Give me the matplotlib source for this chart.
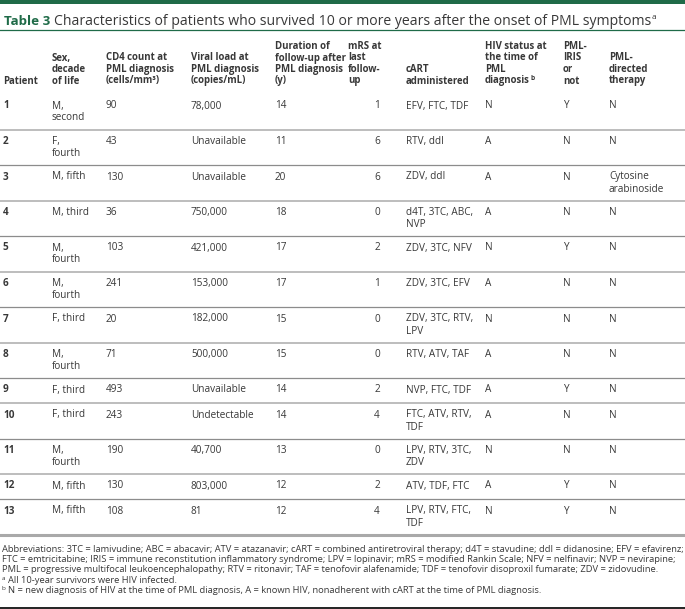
import matplotlib.pyplot as plt

plt.rcParams['font.family'] = ['Open Sans', 'DejaVu Sans']
plt.rcParams['mathtext.fontset'] = 'custom'
plt.rcParams['mathtext.rm'] = 'Open Sans'

# table content
headers = ["Patient", "Sex,\ndecade\nof life", "CD4 count at\nPML diagnosis\n(cells/mm\u00b3)",
           "Viral load at\nPML diagnosis\n(copies/mL)", "Duration of\nfollow-up after\nPML diagnosis\n(y)",
           "mRS at\nlast\nfollow-\nup", "cART\nadministered",
           "HIV status at\nthe time of\nPML\ndiagnosis", "PML-\nIRIS\nor\nnot", "PML-\ndirected\ntherapy"]

patients = ["1", "2", "3", "4", "5", "6", "7", "8", "9", "10", "11", "12", "13"]
sex_decade = ["M,\nsecond", "F,\nfourth", "M, fifth", "M, third", "M,\nfourth", "M,\nfourth", "F, third",
              "M,\nfourth", "F, third", "F, third", "M,\nfourth", "M, fifth", "M, fifth"]
cd4 = ["90", "43", "130", "36", "103", "241", "20", "71", "493", "243", "190", "130", "108"]
viral_load = ["78,000", "Unavailable", "Unavailable", "750,000", "421,000", "153,000", "182,000",
              "500,000", "Unavailable", "Undetectable", "40,700", "803,000", "81"]
duration = ["14", "11", "20", "18", "17", "17", "15", "15", "14", "14", "13", "12", "12"]
mrs = ["1", "6", "6", "0", "2", "1", "0", "0", "2", "4", "0", "2", "4"]
cart = ["EFV, FTC, TDF", "RTV, ddI", "ZDV, ddI", "d4T, 3TC, ABC,\nNVP", "ZDV, 3TC, NFV",
        "ZDV, 3TC, EFV", "ZDV, 3TC, RTV,\nLPV", "RTV, ATV, TAF", "NVP, FTC, TDF",
        "FTC, ATV, RTV,\nTDF", "LPV, RTV, 3TC,\nZDV", "ATV, TDF, FTC", "LPV, RTV, FTC,\nTDF"]
hiv_status = ["N", "A", "A", "A", "N", "A", "N", "A", "A", "A", "N", "A", "N"]
pml_iris = ["Y", "N", "N", "N", "Y", "N", "N", "N", "Y", "N", "N", "Y", "Y"]
pml_therapy = ["N", "N", "Cytosine\narabinoside", "N", "N", "N", "N", "N", "N", "N", "N", "N", "N"]

footnotes = [
    "Abbreviations: 3TC = lamivudine; ABC = abacavir; ATV = atazanavir; cART = combined antiretroviral therapy; d4T = stavudine; ddI = didanosine; EFV = efavirenz;",
    "FTC = emtricitabine; IRIS = immune reconstitution inflammatory syndrome; LPV = lopinavir; mRS = modified Rankin Scale; NFV = nelfinavir; NVP = nevirapine;",
    "PML = progressive multifocal leukoencephalopathy; RTV = ritonavir; TAF = tenofovir alafenamide; TDF = tenofovir disoproxil fumarate; ZDV = zidovudine.",
    "All 10-year survivors were HIV infected.",
    "N = new diagnosis of HIV at the time of PML diagnosis, A = known HIV, nonadherent with cART at the time of PML diagnosis.",
]
foot_marks = ["", "", "", "a", "b"]

columns = [patients, sex_decade, cd4, viral_load, duration, mrs, cart, hiv_status, pml_iris, pml_therapy]
col_x = [3, 52, 106, 191, 275, 348, 406, 485, 563, 609]

green = "#1f6b48"
txt = "#383838"

fig = plt.figure(figsize=(6.85, 6.09), dpi=100)
ax = fig.add_axes([0, 0, 1, 1])
ax.set_xlim(0, 685)
ax.set_ylim(609, 0)
ax.axis("off")


def right_of(t):
    fig.canvas.draw()
    return t.get_window_extent().transformed(ax.transData.inverted()).x1


# top bar and title
ax.axhspan(0, 3.5, color=green, lw=0)
t1 = ax.text(4, 25, "Table 3", color=green, fontsize=9.6, fontweight="bold", va="baseline")
t2 = ax.text(right_of(t1) + 4, 25,
             "Characteristics of patients who survived 10 or more years after the onset of PML symptoms",
             fontsize=10.1, color=txt, va="baseline")
ax.text(right_of(t2) + 0.5, 19, "a", fontsize=6, color=txt, va="baseline")
ax.plot([0, 685], [29.5, 29.5], color=green, lw=0.9)

# header
for x, h in zip(col_x, headers):
    lines = h.split("\n")
    for k, line in enumerate(reversed(lines)):
        t = ax.text(x, 81 - 11.5 * k, line, fontsize=6.9, fontweight="bold", color=txt, va="center")
        if line == "diagnosis":
            ax.text(right_of(t) + 0.5, 78, "b", fontsize=4.8, fontweight="bold", color=txt, va="center")

# rows
top = 94
for i in range(len(patients)):
    cells = [col[i] for col in columns]
    n = max(c.count("\n") + 1 for c in cells)
    for j, (x, c) in enumerate(zip(col_x, cells)):
        for k, line in enumerate(c.split("\n")):
            y = top + 12 + 12 * k
            if j == 0:
                ax.text(x, y, line, fontsize=7.2, fontweight="bold", color=txt, va="center")
            elif j == 5:
                ax.text(x + 29, y, line, fontsize=7.2, color=txt, va="center", ha="center")
            else:
                ax.text(x, y, line, fontsize=7.2, color=txt, va="center")
    top += 25 + 10.5 * (n - 1)
    if i < len(patients) - 1:
        if i % 2 == 0:
            ax.plot([0, 685], [top, top], color="#bdbdbd", lw=1.4)
        else:
            ax.plot([0, 685], [top, top], color="#8c8c8c", lw=0.9)
ax.plot([0, 685], [top, top], color="#a9a9a9", lw=2.2)

# footnotes
for k, (m, f) in enumerate(zip(foot_marks, footnotes)):
    y = top + 15 + 10.2 * k
    if m:
        ax.text(2, y - 2, m, fontsize=4.6, color=txt, va="center")
        ax.text(8, y, f, fontsize=6.75, color=txt, va="center")
    else:
        ax.text(2, y, f, fontsize=6.75, color=txt, va="center")

ax.plot([0, 685], [607.5, 607.5], color="#111111", lw=1.3)

fig.savefig("out.png", dpi=100)
